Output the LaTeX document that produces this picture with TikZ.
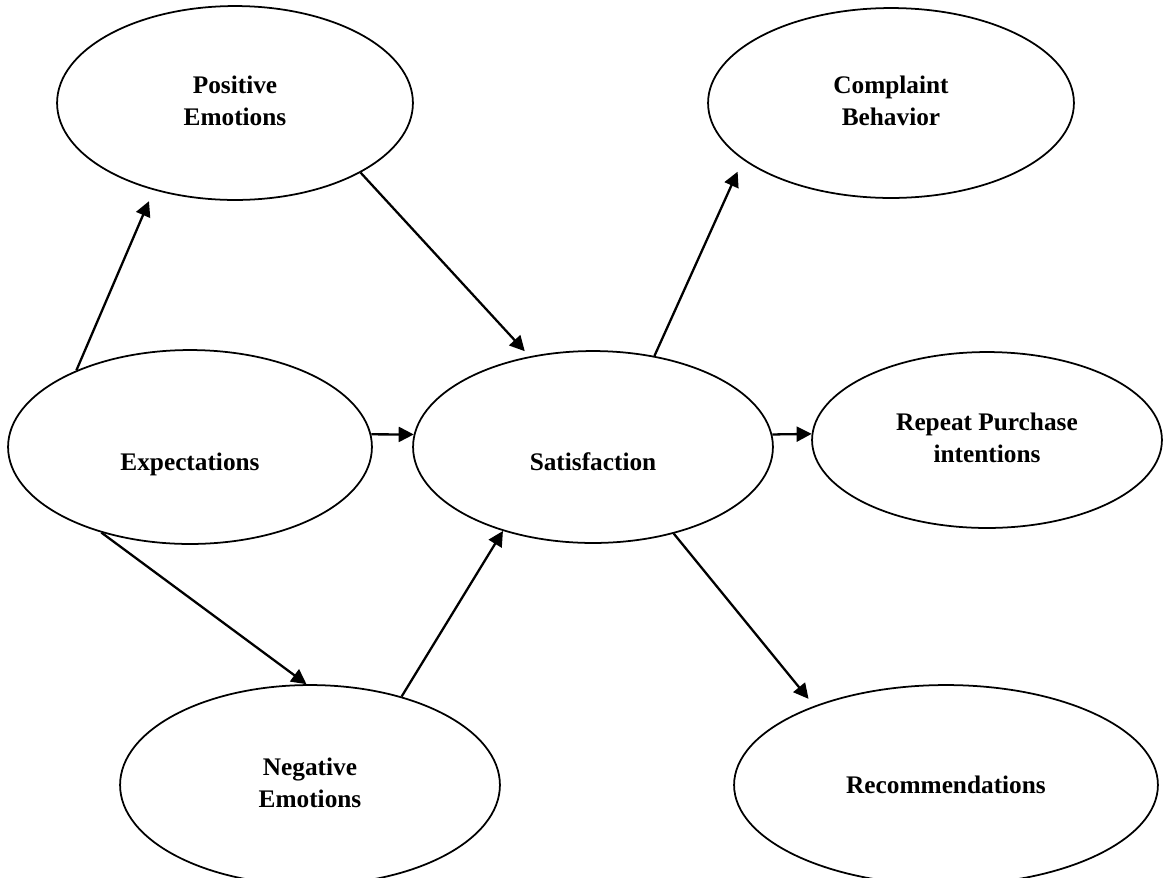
\documentclass[tikz,border=0pt]{standalone}
\usepackage{fontspec}
\setmainfont{Liberation Serif}
\usepackage{tikz}
\usetikzlibrary{arrows.meta,shapes.geometric}

\tikzset{radii/.style 2 args={minimum width=#1*0.04cm,minimum height=#2*0.04cm},
         drop/.style={text height=#1,text depth=0pt}}

\begin{document}
\begin{tikzpicture}[->,>={Triangle[length=0.3cm,width=0.3cm]},
                    line width=1.3pt,
                    x=0.02cm,y=-0.02cm,
                    oval/.style={draw,ellipse,line width=1pt,inner sep=0pt,
                                 font=\fontsize{14.4}{18.2}\selectfont\bfseries}]

\useasboundingbox (0,0) rectangle (1167,877);

\draw node[oval,radii={178}{97}] (POS) at (235,103) {\begin{tabular}{c}Positive\\
                                                                    Emotions\end{tabular}}
      node[oval,radii={183}{95}] (COMP) at (891,103) {\begin{tabular}{c}Complaint\\
                                                                    Behavior\end{tabular}}
      node[oval,radii={182}{97},drop=0.94cm] (EXP) at (190,447) {Expectations}
      node[oval,radii={180}{96},drop=0.94cm] (SAT) at (593,447) {Satisfaction}
      node[oval,radii={175}{88}] (REP) at (987,440) {\begin{tabular}{c}Repeat Purchase\\
                                                                    intentions\end{tabular}}
      node[oval,radii={190}{100}] (NEG) at (310,785) {\begin{tabular}{c}Negative\\
                                                                    Emotions\end{tabular}}
      node[oval,radii={212}{100}] (REC) at (946,785) {Recommendations};

\path (EXP.146) edge[shorten >=0.24cm] (POS.227)
      (POS.331) edge[shorten >=0.14cm] (SAT.125)
      (SAT.56) edge[shorten >=0.26cm] (COMP.201)
      (EXP.4) edge (SAT.176)
      (SAT.4) edge (REP.178)
      (EXP.224) edge (NEG.92)
      (NEG.44) edge (SAT.223)
      (SAT.313) edge[shorten >=0.18cm] (REC.149);

\end{tikzpicture}
\end{document}
